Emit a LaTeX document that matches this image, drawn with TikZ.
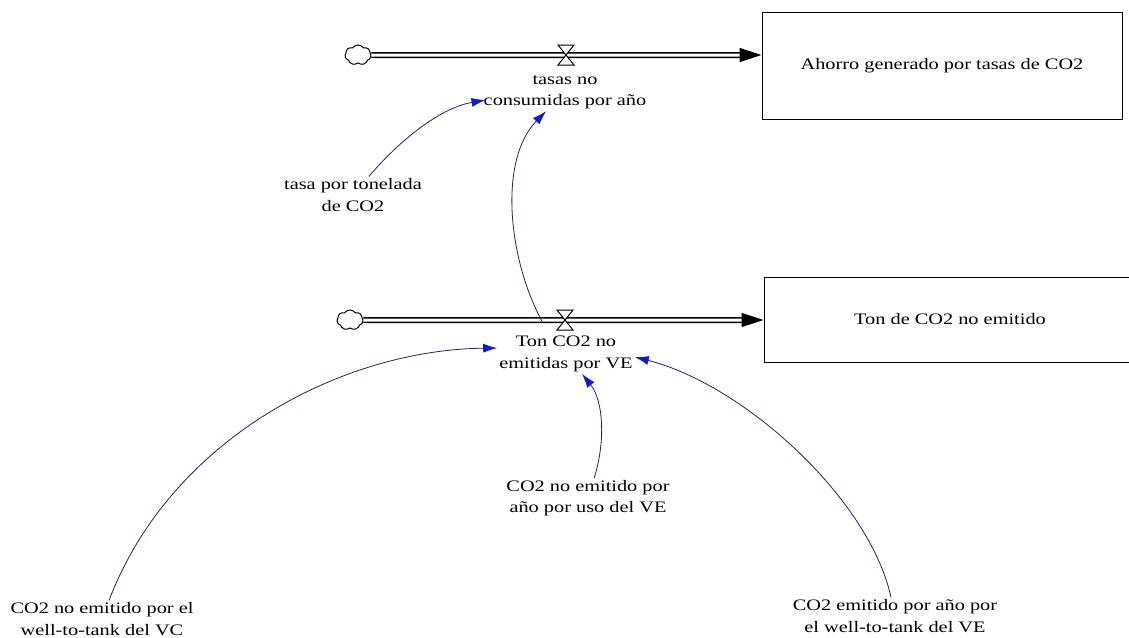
\documentclass[tikz,border=0pt]{standalone}
\usepackage{fontspec}
\setmainfont{Liberation Serif}[FakeStretch=1.27]
\usepackage{xcolor}
\usepackage{tikz}
\usetikzlibrary{positioning, arrows.meta, shapes.symbols}
\definecolor{linkblue}{HTML}{1E1E80}
\definecolor{tipblue}{HTML}{0B1BD6}

\tikzset{
  stockbox/.style={draw, line width=1pt, minimum width=360pt, minimum height=107pt},
  varnode/.style={align=center, inner sep=2pt},
  source/.style={cloud, cloud puffs=7, cloud puff arc=110, aspect=1.3, draw,
                 line width=1pt, minimum width=26pt, minimum height=20pt, inner sep=0pt},
  pipe/.style={line width=1.5pt, double distance=3pt, double=white,
               -{Triangle[length=22pt, width=14pt]}},
  link/.style={draw=linkblue, line width=0.8pt,
               -{Latex[length=14pt, width=9pt, color=tipblue]}},
  valve/.pic={
    \draw[fill=white, line width=1pt] (-8,-10) -- (8,-10) -- (-8,10) -- (8,10) -- cycle;
  }
}

\begin{document}
\begin{tikzpicture}[x=1pt, y=-1pt, font=\fontsize{16pt}{21.5pt}\selectfont]
  \useasboundingbox (0,0) rectangle (1129,637);

  % stocks
  \node[stockbox] (stocksavings) at (942,65.5) {Ahorro generado por tasas de CO2};
  \node[stockbox, minimum width=372pt, minimum height=85pt] (stockton) at (950,319.5) {Ton de CO2 no emitido};

  % flows
  \node[source] (cloudtasas) at (358,55) {};
  \node[source] (cloudton) at (350,320) {};
  \draw[pipe] (cloudtasas) -- (stocksavings.west |- cloudtasas);
  \draw[pipe] (cloudton) -- (stockton.west |- cloudton);
  \pic at (566,55) {valve};
  \pic at (565,320) {valve};
  \node[varnode] (flowtasas) at (565,92) {tasas no\\consumidas por año};
  \node[varnode] (flowton) at (566,354) {Ton CO2 no\\emitidas por VE};

  % auxiliaries
  \node[varnode] (tasaton) at (353,195) {tasa por tonelada\\de CO2};
  \node[varnode] (usove) at (588,498) {CO2 no emitido por\\año por uso del VE};
  \node[varnode] (wttvc) at (102,619) {CO2 no emitido por el\\well-to-tank del VC};
  \node[varnode] (wttve) at (895,616) {CO2 emitido por año por\\el well-to-tank del VE};

  % links
  \draw[link] (tasaton) .. controls (400,140) and (440,108) .. ([xshift=4pt, yshift=-8pt]flowtasas.west);
  \draw[link] ([xshift=-23pt, yshift=11pt]flowton.north) .. controls (508,260) and (498,160) .. (flowtasas);
  \draw[link] (wttvc) .. controls (170,440) and (340,350) .. ([yshift=6pt]flowton.west);
  \draw[link] (usove) .. controls (606,440) and (603,400) .. (flowton);
  \draw[link] (wttve) .. controls (870,500) and (745,385) .. ([yshift=-3pt]flowton.east);
\end{tikzpicture}
\end{document}
